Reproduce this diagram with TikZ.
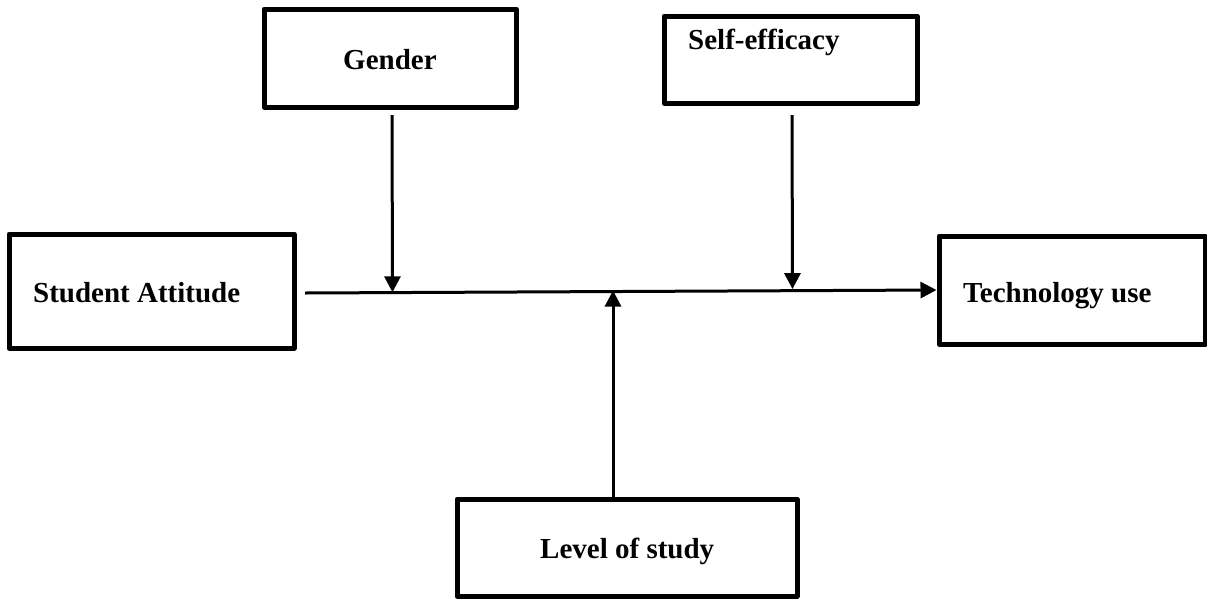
\documentclass[tikz,border=0pt]{standalone}
\usepackage{fontspec}
\setmainfont{Liberation Serif}
\usetikzlibrary{arrows.meta}
\begin{document}
\begin{tikzpicture}[x=1pt,y=-1pt,
  box/.style={draw, line width=5pt, line join=round, inner sep=0pt},
  lbl/.style={font=\fontsize{29}{34}\selectfont\bfseries, inner sep=0pt, anchor=base west},
  conn/.style={line width=3pt, -{Triangle[length=16pt,width=16pt]}}]
\useasboundingbox (0,0) rectangle (1207,598);
% boxes
\node[box, minimum width=252pt, minimum height=98pt] (g) at (390,58) {};
\node[box, minimum width=253pt, minimum height=87pt] (se) at (790.5,59.5) {};
\node[box, minimum width=285pt, minimum height=114pt] (sa) at (151.5,291) {};
\node[box, minimum width=266pt, minimum height=108pt] (tu) at (1072,290) {};
\node[box, minimum width=340pt, minimum height=97pt] (ls) at (627,547.5) {};
% labels
\node[lbl] (tg) at (343,69) {Gender};
\node[lbl] (tse) at (688,49) {Self-efficacy};
\node[lbl] (tsa) at (33,302) {Student Attitude};
\node[lbl] (ttu) at (963,302) {Technology use};
\node[lbl] (tls) at (540,558) {Level of study};
% connectors
\coordinate (start) at (305,293);
\coordinate (m1) at (392.5,292.3);
\coordinate (m2) at (792.5,289.1);
\coordinate (m3) at (613,290.5);
\coordinate (g0) at (392,115);
\coordinate (se0) at (792,115);
\draw[conn] (start) -- (tu.west);
\draw[conn] (g0) -- (m1);
\draw[conn] (se0) -- (m2);
\draw[conn] (ls.north -| m3) -- (m3);
\end{tikzpicture}
\end{document}
